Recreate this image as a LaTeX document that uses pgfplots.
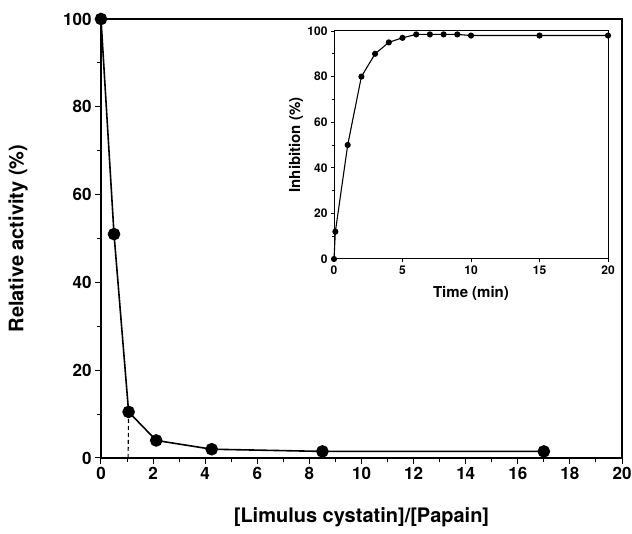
\documentclass[border=0pt]{standalone}
\usepackage{pgfplots}
\pgfplotsset{compat=1.18}
\usepackage{fontspec}
\setmainfont{TeX Gyre Heros}
\begin{document}
\begin{tikzpicture}
\useasboundingbox (-101pt,-76pt) rectangle (531pt,458pt);
\begin{axis}[
  at={(0pt,0pt)}, anchor=south west,
  scale only axis, width=521pt, height=439pt,
  xmin=0, xmax=20, ymin=0, ymax=100,
  xtick={0,2,...,20}, ytick={0,20,...,100},
  minor x tick num=1, minor y tick num=1,
  xtick pos=bottom, ytick pos=left,
  tick align=outside,
  major tick length=6pt, minor tick length=4pt,
  every tick/.style={black, line width=1pt},
  axis line style={line width=1.2pt},
  /pgf/number format/assume math mode=true,
  tick label style={font=\bfseries\fontsize{17}{20}\selectfont},
  label style={font=\bfseries\fontsize{20}{24}\selectfont},
  xlabel={[Limulus cystatin]/[Papain]},
  ylabel={Relative activity (\%)},
  xlabel style={at={(axis description cs:0.5,0)}, anchor=center, yshift=-59pt},
  ylabel style={at={(axis description cs:-0.159,0.5)}, anchor=center},
  clip=false,
]
\addplot[black, line width=1.6pt, mark=*, mark size=5.5pt] coordinates {
  (0,100) (0.5,51) (1.06,10.5) (2.12,4) (4.25,2) (8.5,1.5) (17,1.5)
};
\addplot[black, line width=1.1pt, dash pattern=on 4pt off 3pt] coordinates {(1.04,0) (1.06,10.5)};
\end{axis}
\begin{axis}[
  at={(233pt,199pt)}, anchor=south west,
  scale only axis, width=274pt, height=228pt,
  xmin=0, xmax=20, ymin=0, ymax=100,
  xtick={0,5,...,20}, ytick={0,20,...,100},
  minor y tick num=1,
  xtick pos=bottom, ytick pos=left,
  tick align=outside,
  major tick length=3pt, minor tick length=2pt,
  every tick/.style={black, line width=0.8pt},
  axis line style={line width=1pt},
  /pgf/number format/assume math mode=true,
  tick label style={font=\bfseries\fontsize{12}{14}\selectfont},
  label style={font=\bfseries\fontsize{15}{18}\selectfont},
  xlabel={Time (min)},
  ylabel={Inhibition (\%)},
  xlabel style={at={(axis description cs:0.5,0)}, anchor=center, yshift=-34pt},
  ylabel style={at={(axis description cs:-0.139,0.5)}, anchor=center},
  clip=false,
]
\addplot[black, line width=1.1pt, mark=*, mark size=2.5pt] coordinates {
  (0,0) (0.1,12) (1,50) (2,80) (3,90) (4,95) (5,97) (6,98.5) (7,98.5) (8,98.5) (9,98.5) (10,98) (15,98) (20,98)
};
\end{axis}
\end{tikzpicture}
\end{document}
